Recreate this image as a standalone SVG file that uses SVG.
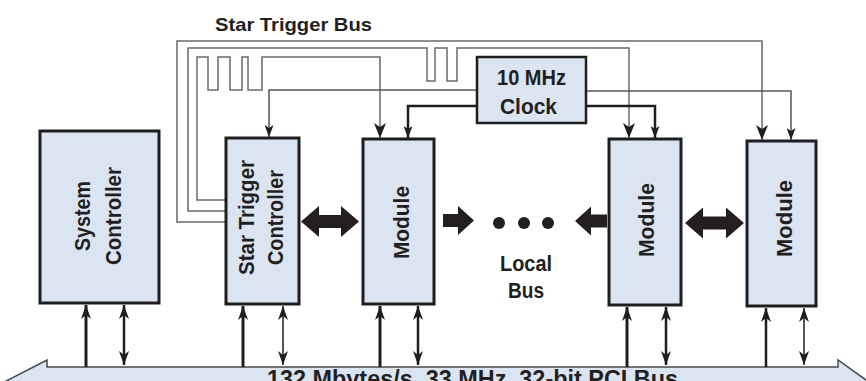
<svg xmlns="http://www.w3.org/2000/svg" width="866" height="381" viewBox="0 0 866 381">
<style>
.box{fill:#dae5f1;stroke:#1e1e1e;stroke-width:3}
.lbl{font-family:"Liberation Sans",Arial,sans-serif;font-weight:bold;fill:#231f20}
.stb{fill:none;stroke:#6a6a6a;stroke-width:1.5}
.clk{fill:none;stroke:#555;stroke-width:1.5}
.clkb{fill:none;stroke:#1e1e1e;stroke-width:2.5}
.up{stroke:#1e1e1e;stroke-width:3;fill:none}
.dbl{stroke:#1e1e1e;stroke-width:2.5;fill:none}
.dblt{stroke:#1e1e1e;stroke-width:1.5;fill:none}
.blk{fill:#231f20}
</style>
<defs>
<marker id="bigA" viewBox="0 0 15 12" markerWidth="15" markerHeight="12" refX="15" refY="6" orient="auto" markerUnits="userSpaceOnUse"><path d="M0,0 L15,6 L0,12 L4,6 Z" fill="#1e1e1e"/></marker>
<marker id="smA" viewBox="0 0 12 9" markerWidth="12" markerHeight="9" refX="12" refY="4.5" orient="auto" markerUnits="userSpaceOnUse"><path d="M0,0 L12,4.5 L0,9 L3,4.5 Z" fill="#1e1e1e"/></marker>
<marker id="vA" viewBox="0 0 14 10" markerWidth="14" markerHeight="10" refX="14" refY="5" orient="auto-start-reverse" markerUnits="userSpaceOnUse"><path d="M0,0 L14,5 L0,10 L4,5 Z" fill="#1e1e1e"/></marker>
</defs>
<rect width="866" height="381" fill="#ffffff"/>

<g id="pci-bus">
<polygon points="-21,395 47,360 47,367 838,367 838,360 887,395 838,430 838,423 47,423 47,430" fill="#dae5f1" stroke="#4a4a4a" stroke-width="1.5"/>
<text class="lbl" x="267" y="387" font-size="24" textLength="411" lengthAdjust="spacingAndGlyphs">132 Mbytes/s, 33 MHz, 32-bit PCI Bus</text>
</g>

<g id="connectors">
<text class="lbl" x="215" y="31" font-size="19" textLength="157" lengthAdjust="spacingAndGlyphs">Star Trigger Bus</text>
<polyline class="stb" points="226,222 177,222 177,41 762,41 762,140" marker-end="url(#bigA)"/>
<polyline class="stb" points="226,211 188,211 188,48 427,48 427,81 435,81 435,48 447,48 447,81 457,81 457,48 629,48 629,138" marker-end="url(#bigA)"/>
<polyline class="stb" points="226,200 197,200 197,57 208,57 208,90 218,90 218,57 230,57 230,90 242,90 242,57 248,57 248,90 262,90 262,57 380,57 380,138" marker-end="url(#bigA)"/>
<polyline class="clk" points="477,90 269,90 269,137" marker-end="url(#smA)"/>
<polyline class="clkb" points="477,106 408,106 408,138" marker-end="url(#smA)"/>
<polyline class="clk" points="586,91 791,91 791,140" marker-end="url(#smA)"/>
<polyline class="clkb" points="586,106 655,106 655,138" marker-end="url(#smA)"/>

<line class="up" x1="86" y1="367" x2="86" y2="305" marker-end="url(#vA)"/>
<line class="dbl" x1="124" y1="365" x2="124" y2="305" marker-start="url(#vA)" marker-end="url(#vA)"/>
<line class="up" x1="243" y1="367" x2="243" y2="306" marker-end="url(#vA)"/>
<line class="dblt" x1="283" y1="365" x2="283" y2="306" marker-start="url(#vA)" marker-end="url(#vA)"/>
<line class="up" x1="380" y1="367" x2="380" y2="306" marker-end="url(#vA)"/>
<line class="dbl" x1="418" y1="365" x2="418" y2="306" marker-start="url(#vA)" marker-end="url(#vA)"/>
<line class="up" x1="627" y1="367" x2="627" y2="307" marker-end="url(#vA)"/>
<line class="dbl" x1="666" y1="365" x2="666" y2="307" marker-start="url(#vA)" marker-end="url(#vA)"/>
<line class="up" x1="766" y1="367" x2="766" y2="308" marker-end="url(#vA)" style="stroke-width:2.5"/>
<line class="dblt" x1="804" y1="365" x2="804" y2="308" marker-start="url(#vA)" marker-end="url(#vA)"/>

<path class="blk" d="M301,221.5 L319,206 L319,215 L341,215 L341,206 L359,221.5 L341,237 L341,228 L319,228 L319,237 Z"/>
<path class="blk" d="M443,214 L458,214 L458,206 L474,220.5 L458,235 L458,227 L443,227 Z"/>
<path class="blk" d="M607,214.5 L591,214.5 L591,206.5 L575,221 L591,235.5 L591,227.5 L607,227.5 Z"/>
<path class="blk" d="M685,223 L703,207.5 L703,216.5 L726,216.5 L726,207.5 L744,223 L726,238.5 L726,229.5 L703,229.5 L703,238.5 Z"/>
</g>

<g id="local-bus">
<circle class="blk" cx="499" cy="223" r="6"/>
<circle class="blk" cx="524" cy="223" r="6"/>
<circle class="blk" cx="548" cy="223" r="6"/>
<text class="lbl" x="526" y="271" font-size="22" text-anchor="middle" textLength="52" lengthAdjust="spacingAndGlyphs">Local</text>
<text class="lbl" x="526" y="298" font-size="22" text-anchor="middle" textLength="36" lengthAdjust="spacingAndGlyphs">Bus</text>
</g>

<g id="system-controller">
<rect class="box" x="40" y="131" width="119" height="172"/>
<text class="lbl" font-size="22" text-anchor="middle" transform="translate(90,216) rotate(-90)" textLength="70" lengthAdjust="spacingAndGlyphs">System</text>
<text class="lbl" font-size="22" text-anchor="middle" transform="translate(121,216) rotate(-90)" textLength="98" lengthAdjust="spacingAndGlyphs">Controller</text>
</g>

<g id="star-trigger-controller">
<rect class="box" x="226" y="138" width="73" height="166"/>
<text class="lbl" font-size="22" text-anchor="middle" transform="translate(254,217.5) rotate(-90)" textLength="115" lengthAdjust="spacingAndGlyphs">Star Trigger</text>
<text class="lbl" font-size="22" text-anchor="middle" transform="translate(283,217.5) rotate(-90)" textLength="95" lengthAdjust="spacingAndGlyphs">Controller</text>
</g>

<g id="module-1">
<rect class="box" x="363" y="139" width="71" height="165"/>
<text class="lbl" font-size="22" text-anchor="middle" transform="translate(409,222.5) rotate(-90)" textLength="73" lengthAdjust="spacingAndGlyphs">Module</text>
</g>

<g id="module-2">
<rect class="box" x="609" y="139" width="72" height="166"/>
<text class="lbl" font-size="22" text-anchor="middle" transform="translate(654,220) rotate(-90)" textLength="74" lengthAdjust="spacingAndGlyphs">Module</text>
</g>

<g id="module-3">
<rect class="box" x="747" y="141" width="69" height="165"/>
<text class="lbl" font-size="22" text-anchor="middle" transform="translate(792,218.5) rotate(-90)" textLength="77" lengthAdjust="spacingAndGlyphs">Module</text>
</g>

<g id="clock">
<rect class="box" x="477" y="57" width="109" height="66" style="stroke-width:2.5"/>
<text class="lbl" x="531.5" y="85" font-size="22" text-anchor="middle" textLength="69" lengthAdjust="spacingAndGlyphs">10 MHz</text>
<text class="lbl" x="528.5" y="114" font-size="22" text-anchor="middle" textLength="57" lengthAdjust="spacingAndGlyphs">Clock</text>
</g>
</svg>
